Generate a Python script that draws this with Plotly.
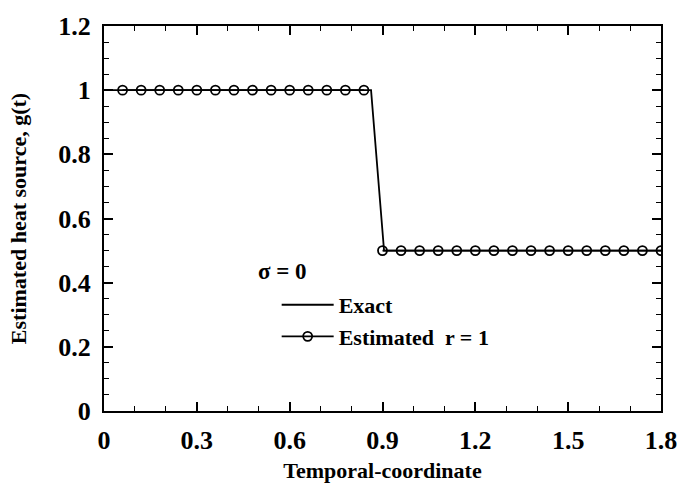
import plotly.graph_objects as go

# Temporal grid where the heat source was estimated (r = 1, noiseless data)
t_est = [0.06, 0.12, 0.18, 0.24, 0.30, 0.36, 0.42, 0.48, 0.54, 0.60,
         0.66, 0.72, 0.78, 0.84, 0.90, 0.96, 1.02, 1.08, 1.14, 1.20,
         1.26, 1.32, 1.38, 1.44, 1.50, 1.56, 1.62, 1.68, 1.74, 1.80]
g_est = [1.0, 1.0, 1.0, 1.0, 1.0, 1.0, 1.0, 1.0, 1.0, 1.0,
         1.0, 1.0, 1.0, 1.0, 0.5, 0.5, 0.5, 0.5, 0.5, 0.5,
         0.5, 0.5, 0.5, 0.5, 0.5, 0.5, 0.5, 0.5, 0.5, 0.5]

# Exact step-shaped heat source
t_exact = [0.0, 0.863, 0.905, 1.8]
g_exact = [1.0, 1.0, 0.5, 0.5]

x_ticks = [0, 0.3, 0.6, 0.9, 1.2, 1.5, 1.8]
x_labels = ["0", "0.3", "0.6", "0.9", "1.2", "1.5", "1.8"]
y_ticks = [0, 0.2, 0.4, 0.6, 0.8, 1.0, 1.2]
y_labels = ["0", "0.2", "0.4", "0.6", "0.8", "1", "1.2"]

SERIF = "Liberation Serif"
n_high = sum(1 for g in g_est if g == 1.0)

fig = go.Figure()
fig.add_trace(go.Scatter(
    x=t_exact, y=g_exact, mode="lines", name="Exact",
    line=dict(color="black", width=1.8),
))
marker = dict(symbol="circle-open", size=9, color="black", line=dict(width=1.8, color="black"))
fig.add_trace(go.Scatter(
    x=t_est[:n_high], y=g_est[:n_high], mode="lines+markers",
    name="Estimated  r = 1", legendgroup="est",
    line=dict(color="black", width=1.8), marker=marker,
))
fig.add_trace(go.Scatter(
    x=t_est[n_high:], y=g_est[n_high:], mode="lines+markers",
    name="Estimated  r = 1", legendgroup="est", showlegend=False,
    line=dict(color="black", width=1.8), marker=marker,
))

axis_common = dict(
    showline=True, linecolor="black", linewidth=2, mirror="allticks",
    ticks="inside", ticklen=9, tickwidth=1.5, tickcolor="black",
    showgrid=False, zeroline=False,
    tickfont=dict(family=SERIF, size=26, color="black", weight="bold"),
)

fig.update_xaxes(
    range=[0, 1.8], tickvals=x_ticks, ticktext=x_labels,
    minor=dict(ticks="inside", ticklen=5, dtick=0.1, tickcolor="black", tickwidth=1.2),
    title=dict(text="Temporal-coordinate", standoff=8,
               font=dict(family=SERIF, size=22, color="black", weight="bold")),
    ticklabelstandoff=5,
    **axis_common,
)
fig.update_yaxes(
    range=[0, 1.2], tickvals=y_ticks, ticktext=y_labels,
    minor=dict(ticks="inside", ticklen=5, dtick=0.05, tickcolor="black", tickwidth=1.2),
    title=dict(text="Estimated heat source, g(t)", standoff=26,
               font=dict(family=SERIF, size=22, color="black", weight="bold")),
    ticklabelstandoff=6,
    **axis_common,
)

# Heading of the legend block (noise level)
fig.add_annotation(
    x=0.49, y=0.435, xref="x", yref="y", xanchor="left", yanchor="middle",
    text="σ = 0", showarrow=False,
    font=dict(family=SERIF, size=23, color="black", weight="bold"),
)

fig.update_layout(
    width=689, height=491,
    margin=dict(l=104, r=19, t=16, b=64),
    paper_bgcolor="white", plot_bgcolor="white",
    legend=dict(
        x=0.31, y=0.33, xanchor="left", yanchor="top",
        bgcolor="rgba(0,0,0,0)",
        font=dict(family=SERIF, size=22, color="black", weight="bold"),
        itemwidth=52, tracegroupgap=0,
    ),
)

fig.write_html("out.html")
